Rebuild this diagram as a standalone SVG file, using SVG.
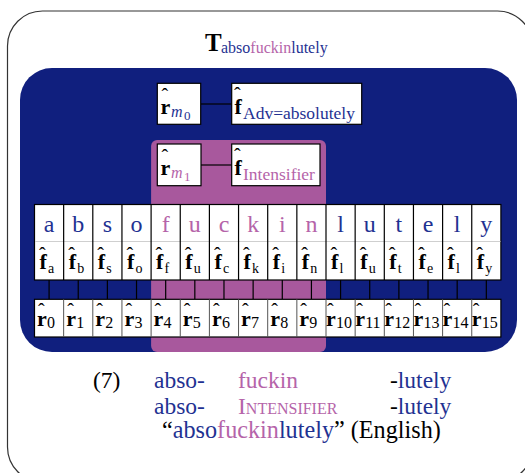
<svg xmlns="http://www.w3.org/2000/svg" width="525" height="473" viewBox="0 0 525 473" font-family="'Liberation Serif', 'DejaVu Serif', serif">
<style>
text, tspan {font-family:"Liberation Serif","DejaVu Serif",serif;}
.b{fill:#1f3292;}
.p{fill:#b564a9;}
.k{fill:#000;}
.box{fill:#fff;stroke:#000;stroke-width:1.2;}
.cell{fill:#fff;stroke:#000;stroke-width:1.2;}
.split{stroke:#cfcfcf;stroke-width:1;}
.conn{stroke:#000;stroke-width:1.2;fill:none;}
.let{font-size:24px;text-anchor:middle;}
.bf{font-weight:bold;font-size:22px;fill:#000;}
.hat{font-size:20px;font-weight:normal;fill:#000;}
.sub{font-size:14px;font-weight:normal;fill:#000;}
.dig{font-size:16px;font-weight:normal;fill:#000;}
.big{font-size:23.5px;}
</style>
<rect x="7.5" y="11" width="525" height="471" rx="35" fill="#fff" stroke="#333" stroke-width="1.2"/>
<g id="title"><text x="205" y="51" font-size="25" font-weight="bold" fill="#000">T<tspan x="221" y="53" font-size="16" font-weight="normal" class="b">abso</tspan><tspan class="p" font-size="16" font-weight="normal">fuckin</tspan><tspan class="b" font-size="16" font-weight="normal">lutely</tspan></text></g>
<rect id="blue-region" x="20" y="68" width="497" height="284" rx="32" fill="#101f7e"/>
<rect id="purple-region" x="151.1" y="140" width="174.9" height="212" rx="6" fill="#a8589d"/>
<g id="connectors">
<line class="conn" x1="200.7" y1="104" x2="231.7" y2="104"/>
<line class="conn" x1="201" y1="165" x2="231.7" y2="165"/>
<path class="conn" d="M49.08 280V299.3M78.23 280V299.3M107.38 280V299.3M136.53 280V299.3M165.68 280V299.3M194.83 280V299.3M223.98 280V299.3M253.13 280V299.3M282.28 280V299.3M311.43 280V299.3M340.58 280V299.3M369.73 280V299.3M398.88 280V299.3M428.03 280V299.3M457.18 280V299.3M486.33 280V299.3"/>
</g>
<g id="r-m0"><rect class="box" x="157.3" y="83.3" width="43.4" height="41"/><text x="160.5" y="114" class="bf">r<tspan x="161.5" y="103" class="hat">ˆ</tspan><tspan x="171" y="117" font-size="16" font-style="italic" font-weight="normal" class="b">m</tspan><tspan x="184" y="120" font-size="13" font-weight="normal" class="b">0</tspan></text></g>
<g id="f-adv"><rect class="box" x="231.7" y="83.3" width="130" height="41"/><text x="234.5" y="114" class="bf">f<tspan x="234" y="102" class="hat">ˆ</tspan><tspan x="243" y="119" font-size="17.5" font-weight="normal" class="b">Adv=absolutely</tspan></text></g>
<g id="r-m1"><rect class="box" x="157.3" y="144" width="43.7" height="41.7"/><text x="160.5" y="175" class="bf">r<tspan x="161.5" y="164" class="hat">ˆ</tspan><tspan x="171" y="178" font-size="16" font-style="italic" font-weight="normal" class="p">m</tspan><tspan x="184" y="181" font-size="13" font-weight="normal" class="p">1</tspan></text></g>
<g id="f-intensifier"><rect class="box" x="231.7" y="144" width="88.3" height="41.7"/><text x="234.5" y="175" class="bf">f<tspan x="234" y="163" class="hat">ˆ</tspan><tspan x="243" y="180" font-size="17.5" font-weight="normal" class="p">Intensifier</tspan></text></g>
<g id="letters">
<rect class="cell" x="34.5" y="204.5" width="466.4" height="75.5"/>
<line class="split" x1="35" y1="241.5" x2="500.4" y2="241.5"/>
<path class="conn" d="M63.65 204.5V280M92.8 204.5V280M121.95 204.5V280M151.1 204.5V280M180.25 204.5V280M209.4 204.5V280M238.55 204.5V280M267.7 204.5V280M296.85 204.5V280M326 204.5V280M355.15 204.5V280M384.3 204.5V280M413.45 204.5V280M442.6 204.5V280M471.75 204.5V280"/>
<text class="let b" x="49.08" y="232">a</text><text class="let b" x="78.23" y="232">b</text><text class="let b" x="107.38" y="232">s</text><text class="let b" x="136.53" y="232">o</text>
<text class="let p" x="165.68" y="232">f</text><text class="let p" x="194.83" y="232">u</text><text class="let p" x="223.98" y="232">c</text><text class="let p" x="253.13" y="232">k</text><text class="let p" x="282.28" y="232">i</text><text class="let p" x="311.43" y="232">n</text>
<text class="let b" x="340.58" y="232">l</text><text class="let b" x="369.73" y="232">u</text><text class="let b" x="398.88" y="232">t</text><text class="let b" x="428.03" y="232">e</text><text class="let b" x="457.18" y="232">l</text><text class="let b" x="486.33" y="232">y</text>
</g>
<g id="f-row">
<g transform="translate(34.5 0)"><text x="5" y="269" class="bf">f<tspan x="4.5" y="262" class="hat">ˆ</tspan><tspan x="13.5" y="273" class="sub">a</tspan></text></g>
<g transform="translate(63.65 0)"><text x="5" y="269" class="bf">f<tspan x="4.5" y="262" class="hat">ˆ</tspan><tspan x="13.5" y="273" class="sub">b</tspan></text></g>
<g transform="translate(92.8 0)"><text x="5" y="269" class="bf">f<tspan x="4.5" y="262" class="hat">ˆ</tspan><tspan x="13.5" y="273" class="sub">s</tspan></text></g>
<g transform="translate(121.95 0)"><text x="5" y="269" class="bf">f<tspan x="4.5" y="262" class="hat">ˆ</tspan><tspan x="13.5" y="273" class="sub">o</tspan></text></g>
<g transform="translate(151.1 0)"><text x="5" y="269" class="bf">f<tspan x="4.5" y="262" class="hat">ˆ</tspan><tspan x="13.5" y="273" class="sub">f</tspan></text></g>
<g transform="translate(180.25 0)"><text x="5" y="269" class="bf">f<tspan x="4.5" y="262" class="hat">ˆ</tspan><tspan x="13.5" y="273" class="sub">u</tspan></text></g>
<g transform="translate(209.4 0)"><text x="5" y="269" class="bf">f<tspan x="4.5" y="262" class="hat">ˆ</tspan><tspan x="13.5" y="273" class="sub">c</tspan></text></g>
<g transform="translate(238.55 0)"><text x="5" y="269" class="bf">f<tspan x="4.5" y="262" class="hat">ˆ</tspan><tspan x="13.5" y="273" class="sub">k</tspan></text></g>
<g transform="translate(267.7 0)"><text x="5" y="269" class="bf">f<tspan x="4.5" y="262" class="hat">ˆ</tspan><tspan x="13.5" y="273" class="sub">i</tspan></text></g>
<g transform="translate(296.85 0)"><text x="5" y="269" class="bf">f<tspan x="4.5" y="262" class="hat">ˆ</tspan><tspan x="13.5" y="273" class="sub">n</tspan></text></g>
<g transform="translate(326 0)"><text x="5" y="269" class="bf">f<tspan x="4.5" y="262" class="hat">ˆ</tspan><tspan x="13.5" y="273" class="sub">l</tspan></text></g>
<g transform="translate(355.15 0)"><text x="5" y="269" class="bf">f<tspan x="4.5" y="262" class="hat">ˆ</tspan><tspan x="13.5" y="273" class="sub">u</tspan></text></g>
<g transform="translate(384.3 0)"><text x="5" y="269" class="bf">f<tspan x="4.5" y="262" class="hat">ˆ</tspan><tspan x="13.5" y="273" class="sub">t</tspan></text></g>
<g transform="translate(413.45 0)"><text x="5" y="269" class="bf">f<tspan x="4.5" y="262" class="hat">ˆ</tspan><tspan x="13.5" y="273" class="sub">e</tspan></text></g>
<g transform="translate(442.6 0)"><text x="5" y="269" class="bf">f<tspan x="4.5" y="262" class="hat">ˆ</tspan><tspan x="13.5" y="273" class="sub">l</tspan></text></g>
<g transform="translate(471.75 0)"><text x="5" y="269" class="bf">f<tspan x="4.5" y="262" class="hat">ˆ</tspan><tspan x="13.5" y="273" class="sub">y</tspan></text></g>
</g>
<g id="r-row">
<rect class="cell" x="34.5" y="299.3" width="466.4" height="37.7"/>
<path stroke="#555" stroke-width="1" d="M63.65 299.3V337M92.8 299.3V337M121.95 299.3V337M151.1 299.3V337M180.25 299.3V337M209.4 299.3V337M238.55 299.3V337M267.7 299.3V337M296.85 299.3V337M326 299.3V337M355.15 299.3V337M384.3 299.3V337M413.45 299.3V337M442.6 299.3V337M471.75 299.3V337"/>
<g transform="translate(34.5 0)"><text x="2.5" y="326" class="bf">r<tspan x="3.5" y="318" class="hat">ˆ</tspan><tspan x="12.5" y="328" class="dig">0</tspan></text></g>
<g transform="translate(63.65 0)"><text x="2.5" y="326" class="bf">r<tspan x="3.5" y="318" class="hat">ˆ</tspan><tspan x="12.5" y="328" class="dig">1</tspan></text></g>
<g transform="translate(92.8 0)"><text x="2.5" y="326" class="bf">r<tspan x="3.5" y="318" class="hat">ˆ</tspan><tspan x="12.5" y="328" class="dig">2</tspan></text></g>
<g transform="translate(121.95 0)"><text x="2.5" y="326" class="bf">r<tspan x="3.5" y="318" class="hat">ˆ</tspan><tspan x="12.5" y="328" class="dig">3</tspan></text></g>
<g transform="translate(151.1 0)"><text x="2.5" y="326" class="bf">r<tspan x="3.5" y="318" class="hat">ˆ</tspan><tspan x="12.5" y="328" class="dig">4</tspan></text></g>
<g transform="translate(180.25 0)"><text x="2.5" y="326" class="bf">r<tspan x="3.5" y="318" class="hat">ˆ</tspan><tspan x="12.5" y="328" class="dig">5</tspan></text></g>
<g transform="translate(209.4 0)"><text x="2.5" y="326" class="bf">r<tspan x="3.5" y="318" class="hat">ˆ</tspan><tspan x="12.5" y="328" class="dig">6</tspan></text></g>
<g transform="translate(238.55 0)"><text x="2.5" y="326" class="bf">r<tspan x="3.5" y="318" class="hat">ˆ</tspan><tspan x="12.5" y="328" class="dig">7</tspan></text></g>
<g transform="translate(267.7 0)"><text x="2.5" y="326" class="bf">r<tspan x="3.5" y="318" class="hat">ˆ</tspan><tspan x="12.5" y="328" class="dig">8</tspan></text></g>
<g transform="translate(296.85 0)"><text x="2.5" y="326" class="bf">r<tspan x="3.5" y="318" class="hat">ˆ</tspan><tspan x="12.5" y="328" class="dig">9</tspan></text></g>
<g transform="translate(326 0)"><text x="0" y="326" class="bf">r<tspan x="1" y="318" class="hat">ˆ</tspan><tspan x="10" y="328" class="dig">10</tspan></text></g>
<g transform="translate(355.15 0)"><text x="0" y="326" class="bf">r<tspan x="1" y="318" class="hat">ˆ</tspan><tspan x="10" y="328" class="dig">11</tspan></text></g>
<g transform="translate(384.3 0)"><text x="0" y="326" class="bf">r<tspan x="1" y="318" class="hat">ˆ</tspan><tspan x="10" y="328" class="dig">12</tspan></text></g>
<g transform="translate(413.45 0)"><text x="0" y="326" class="bf">r<tspan x="1" y="318" class="hat">ˆ</tspan><tspan x="10" y="328" class="dig">13</tspan></text></g>
<g transform="translate(442.6 0)"><text x="0" y="326" class="bf">r<tspan x="1" y="318" class="hat">ˆ</tspan><tspan x="10" y="328" class="dig">14</tspan></text></g>
<g transform="translate(471.75 0)"><text x="0" y="326" class="bf">r<tspan x="1" y="318" class="hat">ˆ</tspan><tspan x="10" y="328" class="dig">15</tspan></text></g>
</g>
<g id="gloss">
<text x="93" y="388" class="big k">(7)</text>
<text x="154" y="388" class="big b">abso-</text>
<text x="238" y="388" class="big p">fuckin</text>
<text x="390" y="388" class="big"><tspan class="k">-</tspan><tspan class="b">lutely</tspan></text>
<text x="154" y="414" class="big b">abso-</text>
<text x="238" y="414" class="big p" style="font-variant:small-caps">Intensifier</text>
<text x="390" y="414" class="big"><tspan class="k">-</tspan><tspan class="b">lutely</tspan></text>
<text x="162" y="438" font-size="24.2"><tspan class="k">“</tspan><tspan class="b">abso</tspan><tspan class="p">fuckin</tspan><tspan class="b">lutely</tspan><tspan class="k">” (English)</tspan></text>
</g>
</svg>
